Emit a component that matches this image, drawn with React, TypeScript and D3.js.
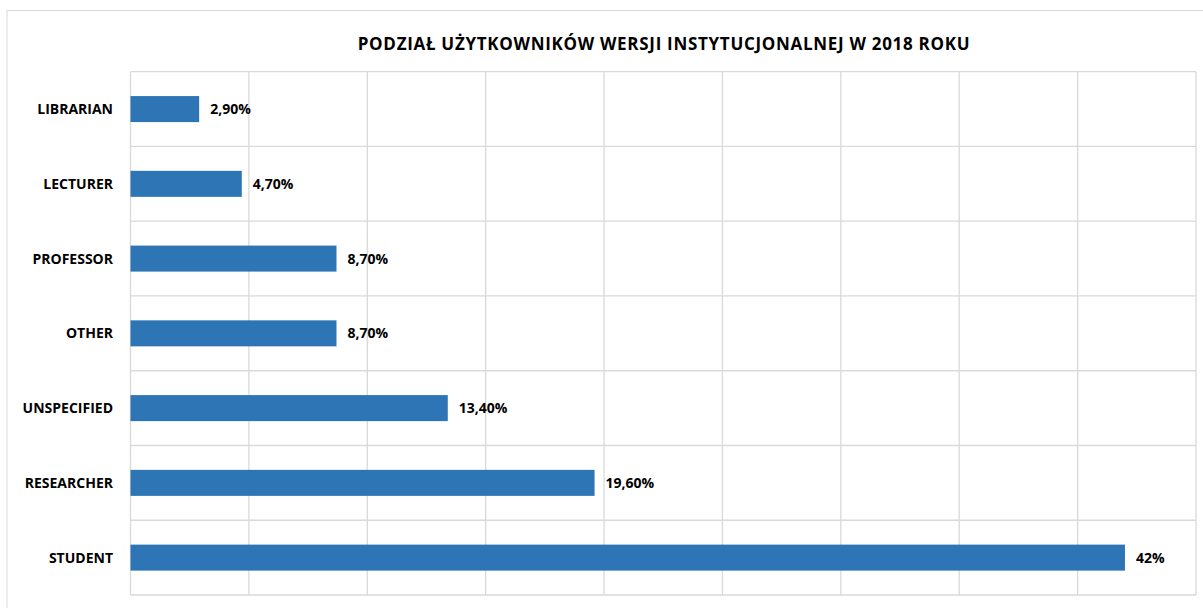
import React from "react";
import * as d3 from "d3";

const categories = ["LIBRARIAN", "LECTURER", "PROFESSOR", "OTHER", "UNSPECIFIED", "RESEARCHER", "STUDENT"];
const values = [2.9, 4.7, 8.7, 8.7, 13.4, 19.6, 42];
const valueLabels = ["2,90%", "4,70%", "8,70%", "8,70%", "13,40%", "19,60%", "42%"];
const xTicks = [0, 5, 10, 15, 20, 25, 30, 35, 40, 45];
const title = "PODZIAŁ UŻYTKOWNIKÓW WERSJI INSTYTUCJONALNEJ W 2018 ROKU";

const W = 1203;
const H = 608;
const plot = { left: 130.5, right: 1196, top: 71.7, bottom: 595 };
const FONT = "'Open Sans', 'Liberation Sans', sans-serif";

export default function App() {
  const x = d3.scaleLinear().domain([0, 45]).range([plot.left, plot.right]);
  const y = d3
    .scaleBand<string>()
    .domain(categories)
    .range([plot.top, plot.bottom])
    .paddingInner(0.652)
    .paddingOuter(0.326);
  const step = y.step();
  const rows = d3.range(categories.length + 1).map((i) => plot.top + i * step);

  return (
    <svg
      width={W}
      height={H}
      style={{ position: "absolute", left: 0, top: 0, background: "#fff" }}
      fontFamily={FONT}
    >
      <rect x={0} y={0} width={W} height={H} fill="#fff" />
      <rect x={7} y={10.5} width={W + 10} height={H + 10} fill="#fff" stroke="#d9d9d9" strokeWidth={1} />
      <text x={664} y={50} textAnchor="middle" fontSize={17} letterSpacing={0.7} fontWeight={700} fill="#000">
        {title}
      </text>
      <g stroke="#d9d9d9" strokeWidth={1.3}>
        {xTicks.map((t) => (
          <line key={"v" + t} x1={x(t)} x2={x(t)} y1={plot.top} y2={plot.bottom} />
        ))}
        {rows.map((r, i) => (
          <line key={"h" + i} x1={plot.left} x2={plot.right} y1={r} y2={r} />
        ))}
      </g>
      {categories.map((c, i) => {
        const yy = y(c)!;
        const bw = y.bandwidth();
        return (
          <g key={c}>
            <rect x={x(0)} y={yy} width={x(values[i]) - x(0)} height={bw} fill="#2E75B6" />
            <text
              x={113}
              y={yy + bw / 2}
              dy="0.36em"
              textAnchor="end"
              fontSize={14}
              fontWeight={700}
              fill="#000"
            >
              {c}
            </text>
            <text
              x={x(values[i]) + 11}
              y={yy + bw / 2}
              dy="0.36em"
              fontSize={14}
              fontWeight={700}
              fill="#000"
            >
              {valueLabels[i]}
            </text>
          </g>
        );
      })}
    </svg>
  );
}
